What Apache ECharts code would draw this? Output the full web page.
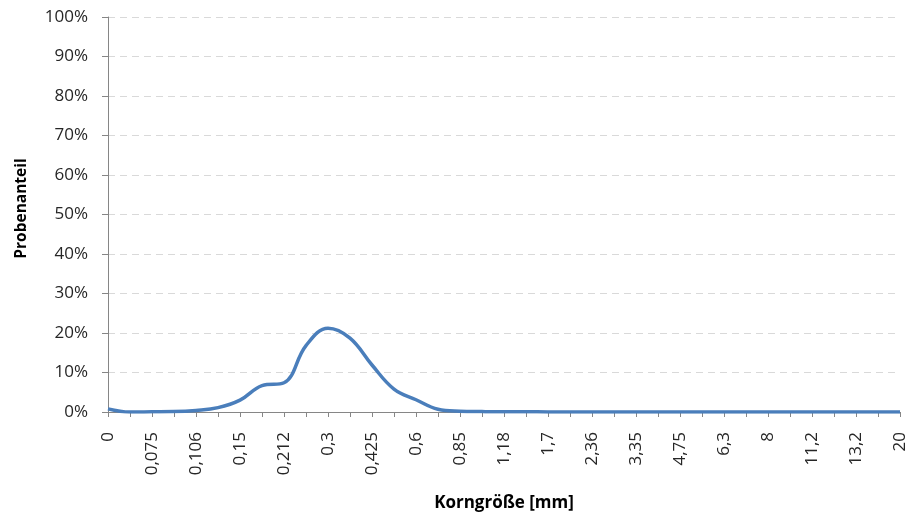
<!DOCTYPE html>
<html>
<head>
<meta charset="utf-8">
<script src="https://cdn.jsdelivr.net/npm/echarts@6/dist/echarts.min.js"></script>
<style>html,body{margin:0;padding:0;background:#fff}#c{width:909px;height:523px}</style>
</head>
<body>
<div id="c"></div>
<script>
const categories = ["0","0,063","0,075","0,09","0,106","0,125","0,15","0,18","0,212","0,25","0,3","0,355","0,425","0,5","0,6","0,71","0,85","1","1,18","1,4","1,7","2","2,36","2,8","3,35","4","4,75","5,6","6,3","7,1","8","10","11,2","12,5","13,2","16","20"];
const probenanteil = [0.8,0.0,0.05,0.1,0.4,1.1,3.0,6.7,7.4,16.8,21.2,18.7,11.9,5.8,3.1,0.7,0.2,0.1,0.05,0.05,0.02,0,0,0,0,0,0,0,0,0,0,0,0,0,0,0,0];
const yTicks = [0,10,20,30,40,50,60,70,80,90,100];

const font = "'Open Sans', sans-serif";
const chart = echarts.init(document.getElementById('c'));
chart.setOption({
  animation: false,
  grid: {left: 108, right: 9, top: 17, bottom: 111, containLabel: false, outerBoundsMode: 'none'},
  xAxis: {
    type: 'category',
    data: categories,
    boundaryGap: false,
    name: 'Korngröße [mm]',
    nameLocation: 'middle',
    nameGap: 83,
    nameTextStyle: {fontFamily: font, fontWeight: 'bold', fontSize: 17, color: '#000'},
    axisLine: {lineStyle: {color: '#868686', width: 1}},
    axisTick: {show: true, interval: 0, length: 5, lineStyle: {color: '#868686'}},
    axisLabel: {interval: 1, rotate: 90, margin: 20, fontFamily: font, fontSize: 17, color: '#262626'},
    splitLine: {show: false}
  },
  yAxis: {
    type: 'value',
    min: 0, max: 100, interval: 10,
    name: 'Probenanteil',
    nameLocation: 'middle',
    nameGap: 78,
    nameRotate: 90,
    nameTextStyle: {fontFamily: font, fontWeight: 'bold', fontSize: 15.5, color: '#000', padding: [0, 0, 0, 12]},
    axisLine: {show: true, lineStyle: {color: '#868686', width: 1}},
    axisTick: {show: true, length: 6, lineStyle: {color: '#868686'}},
    axisLabel: {formatter: v => yTicks.includes(v) ? v + '%' : '', margin: 20, fontFamily: font, fontSize: 17, color: '#262626'},
    splitLine: {show: true, lineStyle: {color: '#d9d9d9', type: [7, 5], width: 1}}
  },
  series: [{
    type: 'line',
    data: probenanteil,
    smooth: 0.4,
    symbol: 'none',
    lineStyle: {color: '#4a7ebb', width: 3.5},
    itemStyle: {color: '#4a7ebb'}
  }]
});
</script>
</body>
</html>
